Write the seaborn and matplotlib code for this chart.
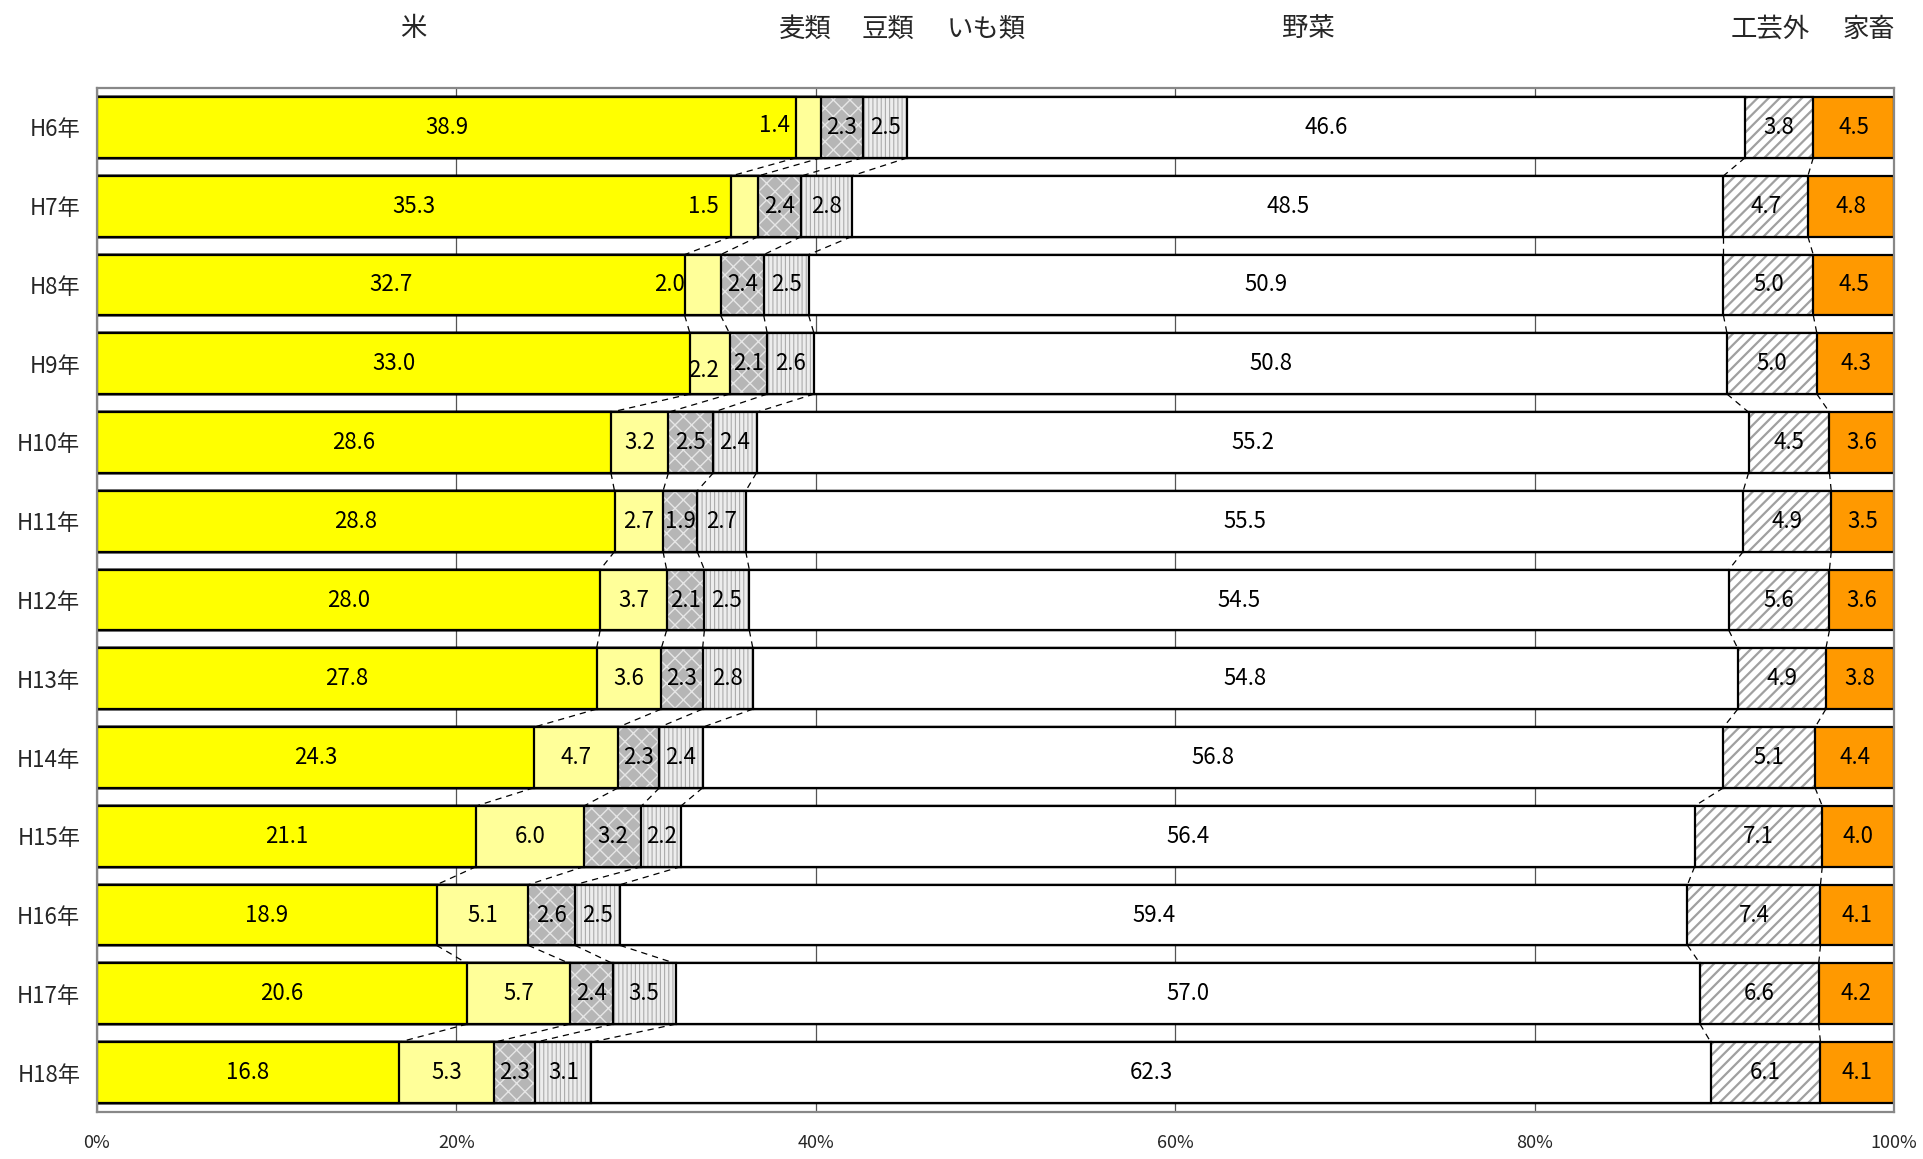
import numpy as np
import pandas as pd
import matplotlib.pyplot as plt
import matplotlib.transforms as mtransforms
import seaborn as sns

years = ["H6年", "H7年", "H8年", "H9年", "H10年", "H11年", "H12年",
         "H13年", "H14年", "H15年", "H16年", "H17年", "H18年"]
categories = ["米", "麦類", "豆類", "いも類", "野菜", "工芸外", "家畜"]

rice = [38.9, 35.3, 32.7, 33.0, 28.6, 28.8, 28.0, 27.8, 24.3, 21.1, 18.9, 20.6, 16.8]
wheat = [1.4, 1.5, 2.0, 2.2, 3.2, 2.7, 3.7, 3.6, 4.7, 6.0, 5.1, 5.7, 5.3]
beans = [2.3, 2.4, 2.4, 2.1, 2.5, 1.9, 2.1, 2.3, 2.3, 3.2, 2.6, 2.4, 2.3]
potato = [2.5, 2.8, 2.5, 2.6, 2.4, 2.7, 2.5, 2.8, 2.4, 2.2, 2.5, 3.5, 3.1]
veg = [46.6, 48.5, 50.9, 50.8, 55.2, 55.5, 54.5, 54.8, 56.8, 56.4, 59.4, 57.0, 62.3]
crafts = [3.8, 4.7, 5.0, 5.0, 4.5, 4.9, 5.6, 4.9, 5.1, 7.1, 7.4, 6.6, 6.1]
livestock = [4.5, 4.8, 4.5, 4.3, 3.6, 3.5, 3.6, 3.8, 4.4, 4.0, 4.1, 4.2, 4.1]

df = pd.DataFrame({"year": years, "米": rice, "麦類": wheat, "豆類": beans,
                   "いも類": potato, "野菜": veg, "工芸外": crafts, "家畜": livestock})
cum = df[categories].cumsum(axis=1)

# face colour, hatch, hatch colour, hatch line width
styles = {
    "米": ("#ffff00", None, "#ffff00", 1.0),
    "麦類": ("#ffff99", None, "#ffff99", 1.0),
    "豆類": ("#b6b6b6", "xx", "#e6e6e6", 1.0),
    "いも類": ("#ededed", "||||", "#acacac", 0.8),
    "野菜": ("#ffffff", None, "#ffffff", 1.0),
    "工芸外": ("#ffffff", "///", "#a0a0a0", 1.6),
    "家畜": ("#ff9900", None, "#ff9900", 1.0),
}
header_x = [17.6, 39.4, 44.0, 49.5, 67.4, 93.1, 98.6]
# hand-moved labels of the small 麦類 segments (dx in %, dy in rows)
label_shift = {(0, "麦類"): (-1.9, -0.03), (1, "麦類"): (-2.3, 0.0),
               (2, "麦類"): (-1.85, 0.0), (3, "麦類"): (-0.35, 0.08)}

sns.set_theme(style="white")
plt.rcParams["font.family"] = ["Noto Sans CJK JP", "DejaVu Sans"]

bar_h = 0.77
fig, ax = plt.subplots(figsize=(19.23, 11.59), dpi=100)
fig.subplots_adjust(left=0.0504, right=0.985, top=0.924, bottom=0.0406)

for cat in reversed(categories):
    face, hatch, hcol, hlw = styles[cat]
    n0 = len(ax.patches)
    with plt.rc_context({"hatch.linewidth": hlw, "hatch.color": hcol}):
        sns.barplot(x=cum[cat], y=df["year"], orient="y", color=face, saturation=1,
                    width=bar_h, ax=ax)
        for p in ax.patches[n0:]:
            p.set_hatch(hatch)
            p.set_edgecolor(hcol)
            p.set_linewidth(0)
    sns.barplot(x=cum[cat], y=df["year"], orient="y", color="black", fill=False,
                linewidth=1.6, width=bar_h, ax=ax)

# series lines between bars
for i in range(len(years) - 1):
    for cat in categories[:-1]:
        ax.plot([cum[cat][i], cum[cat][i + 1]], [i + bar_h / 2, i + 1 - bar_h / 2],
                color="black", lw=0.9, ls=(0, (5, 4)), zorder=3)

for i in range(len(years)):
    for cat in categories:
        v = df[cat][i]
        dx, dy = label_shift.get((i, cat), (0, 0))
        ax.text(cum[cat][i] - v / 2 + dx, i + dy, f"{v:.1f}", ha="center", va="center",
                fontsize=16, color="black", zorder=4)

trans = mtransforms.blended_transform_factory(ax.transData, fig.transFigure)
for cat, hx in zip(categories, header_x):
    ax.text(hx, 0.975, cat, transform=trans, ha="center", va="center", fontsize=19)

ax.set_xlim(0, 100)
ax.set_ylim(len(years) - 0.5, -0.5)
ax.set_xticks(range(0, 101, 20))
ax.set_xticklabels([f"{t}%" for t in range(0, 101, 20)], fontsize=13)
ax.tick_params(axis="x", length=0, pad=16)
ax.tick_params(axis="y", length=0, pad=12, labelsize=16)
ax.set_xlabel("")
ax.set_ylabel("")
ax.grid(axis="x", color="#555555", lw=0.9)
ax.grid(axis="y", visible=False)
ax.set_axisbelow(True)
for s in ax.spines.values():
    s.set_visible(True)
    s.set_color("#888888")
    s.set_linewidth(1.6)

fig.savefig("out.png", dpi=100, facecolor="white")
